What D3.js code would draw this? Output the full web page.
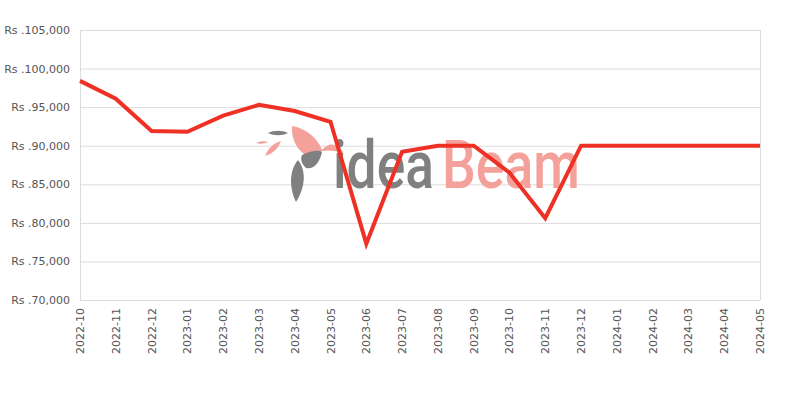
<!DOCTYPE html>
<html><head><meta charset="utf-8">
<script src="https://cdn.jsdelivr.net/npm/d3@7"></script>
<style>body{margin:0;background:#fff}svg{display:block}</style>
</head><body><svg id="c" width="800" height="400"></svg>
<script>
const months = ["2022-10","2022-11","2022-12","2023-01","2023-02","2023-03","2023-04","2023-05","2023-06","2023-07","2023-08","2023-09","2023-10","2023-11","2023-12","2024-01","2024-02","2024-03","2024-04","2024-05"];
const prices = [98400,96100,91900,91800,93900,95300,94500,93100,77300,89200,90000,90000,86500,80600,90000,90000,90000,90000,90000,90000];
const yTicks = [70000,75000,80000,85000,90000,95000,100000,105000];

const svg = d3.select("#c");
const m = {l:80, r:760, t:30, b:300};
const x = d3.scalePoint().domain(months).range([m.l, m.r]);
const y = d3.scaleLinear().domain([70000,105000]).range([m.b, m.t]);
const fmt = d3.format(",");

// gridlines
svg.append("g").selectAll("line").data(yTicks).join("line")
  .attr("x1", m.l).attr("x2", m.r)
  .attr("y1", d=>y(d)+0.5).attr("y2", d=>y(d)+0.5)
  .attr("stroke", "#dcdcdc").attr("stroke-width", 1);
svg.append("line").attr("x1", m.l+0.5).attr("x2", m.l+0.5).attr("y1", m.t).attr("y2", m.b).attr("stroke","#dcdcdc");
svg.append("line").attr("x1", m.r+0.5).attr("x2", m.r+0.5).attr("y1", m.t).attr("y2", m.b).attr("stroke","#dcdcdc");

// y labels
svg.append("g").selectAll("text").data(yTicks).join("text")
  .attr("x", 70).attr("y", d=>y(d)+4)
  .attr("text-anchor","end")
  .attr("font-family","DejaVu Sans, sans-serif").attr("font-size", 11)
  .attr("fill","#555")
  .text(d=>"Rs ." + fmt(d));

// x labels
svg.append("g").selectAll("text").data(months).join("text")
  .attr("transform", d=>`translate(${x(d)+4},308) rotate(-90)`)
  .attr("text-anchor","end")
  .attr("font-family","DejaVu Sans, sans-serif").attr("font-size", 11)
  .attr("fill","#555")
  .text(d=>d);

// watermark
const wm = svg.append("g");
wm.append("path").attr("d","M292,126 C305,128 318,138 322,150 C328,142 338,142 344,154 C332,148 318,150 308,156 C298,152 291,140 292,126 Z").attr("fill","#f4a19b");
wm.append("path").attr("d","M268,133 C274,130 282,130 288,133 C282,136 274,136 268,133 Z").attr("fill","#808080");
wm.append("path").attr("d","M256,143 C260,141 264,141 268,142 C264,144 260,144 256,143 Z").attr("fill","#f4a19b");
wm.append("path").attr("d","M265,156 C268,148 274,143 281,141 C278,149 272,154 265,156 Z").attr("fill","#f4a19b");
wm.append("path").attr("d","M302,155 C312,150 320,150 322,152 C320,162 314,170 306,168 C302,164 300,160 302,155 Z").attr("fill","#808080");
wm.append("path").attr("d","M298,160 C306,170 306,186 296,202 C290,190 288,172 298,160 Z").attr("fill","#808080");
function wmText(str, x0, w, color) {
  const g = wm.append("g");
  const t = g.append("text").attr("x", 0).attr("y", 0)
    .attr("font-family","Roboto, sans-serif").attr("font-size", 66).attr("font-weight","500")
    .attr("fill", color).text(str);
  const nat = t.node().getComputedTextLength() || w;
  g.attr("transform", `translate(${x0},188) scale(${w/nat},1)`);
}
wmText("idea", 333, 101, "#808080");
wmText("Beam", 442, 138, "#f4a19b");

// line
svg.append("path").datum(prices)
  .attr("fill","none").attr("stroke","#ee3124").attr("stroke-width",4)
  .attr("stroke-linejoin","miter")
  .attr("d", d3.line().x((d,i)=>x(months[i])).y(d=>y(d)));
</script></body></html>
